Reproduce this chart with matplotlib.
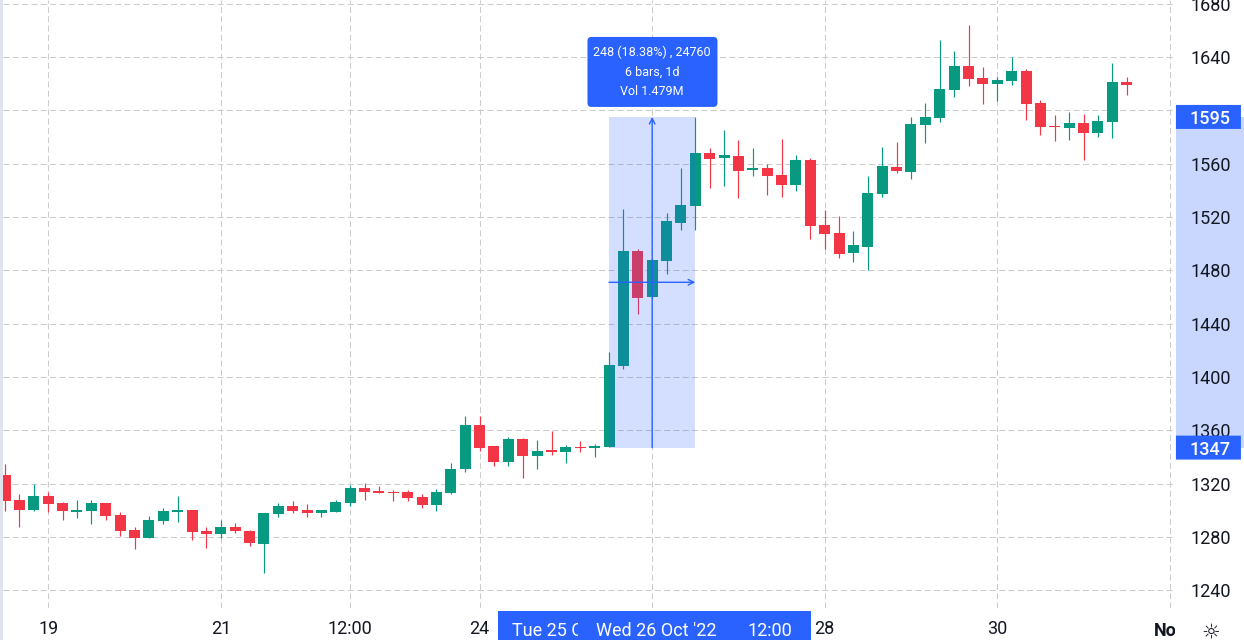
import matplotlib
matplotlib.use("Agg")
import matplotlib.pyplot as plt
import numpy as np
from matplotlib.patches import Rectangle, FancyBboxPatch
from matplotlib.transforms import blended_transform_factory, IdentityTransform, Bbox

plt.rcParams['font.family'] = ['Roboto', 'DejaVu Sans']
plt.rcParams['lines.scale_dashes'] = False

# ---------------- data ----------------
opens = [1326.5, 1307.7, 1300.5, 1310.7, 1305.5, 1299.0, 1299.7, 1305.5, 1296.5, 1285.2,
         1279.5, 1292.2, 1299.0, 1300.2, 1284.5, 1282.5, 1287.5, 1284.5, 1275.0, 1297.5,
         1303.2, 1300.2, 1298.2, 1299.0, 1305.7, 1316.7, 1314.5, 1313.7, 1313.7, 1310.0,
         1304.2, 1313.2, 1331.2, 1364.0, 1348.2, 1336.5, 1353.5, 1341.0, 1345.2, 1344.0,
         1347.5, 1346.7, 1347.7, 1408.2, 1494.5, 1460.2, 1487.2, 1515.7, 1528.5, 1568.0,
         1564.5, 1565.7, 1555.5, 1557.0, 1551.5, 1544.2, 1562.7, 1514.0, 1508.0, 1493.2,
         1497.7, 1537.2, 1557.5, 1553.7, 1589.0, 1594.2, 1615.2, 1633.2, 1624.2, 1619.7,
         1622.0, 1629.5, 1605.5, 1588.2, 1586.7, 1590.5, 1583.0, 1591.2, 1621.2]
highs = [1334.7, 1312.2, 1319.7, 1313.7, 1306.2, 1307.7, 1307.7, 1305.5, 1298.7, 1287.5,
         1295.7, 1301.7, 1310.7, 1300.2, 1287.5, 1292.7, 1290.5, 1285.2, 1298.0, 1305.5,
         1307.0, 1305.0, 1300.2, 1307.7, 1319.0, 1320.5, 1318.2, 1315.2, 1315.2, 1312.2,
         1316.0, 1335.5, 1370.7, 1370.7, 1348.2, 1355.0, 1354.2, 1352.7, 1359.5, 1349.0,
         1352.0, 1349.7, 1418.7, 1526.0, 1496.0, 1488.5, 1523.0, 1556.7, 1595.0, 1571.7,
         1585.2, 1577.7, 1571.7, 1559.7, 1578.5, 1566.5, 1564.2, 1525.2, 1520.7, 1509.5,
         1550.7, 1572.5, 1576.2, 1595.0, 1605.5, 1652.7, 1644.5, 1664.0, 1632.5, 1625.0,
         1640.0, 1631.0, 1607.7, 1596.5, 1598.7, 1597.2, 1596.5, 1635.5, 1625.0]
lows = [1299.7, 1287.7, 1299.7, 1299.0, 1293.0, 1294.5, 1290.0, 1293.0, 1281.0, 1271.2,
        1279.5, 1290.0, 1291.5, 1278.0, 1272.0, 1279.5, 1283.2, 1273.5, 1253.2, 1295.2,
        1298.2, 1295.2, 1295.2, 1299.0, 1303.5, 1308.0, 1313.2, 1307.2, 1307.2, 1302.0,
        1299.7, 1312.5, 1329.0, 1344.7, 1333.5, 1333.5, 1324.5, 1331.2, 1341.7, 1335.7,
        1344.0, 1340.2, 1347.7, 1406.2, 1447.2, 1459.0, 1477.5, 1510.5, 1510.5, 1542.0,
        1543.5, 1534.5, 1551.0, 1536.7, 1535.2, 1539.7, 1503.7, 1496.2, 1489.5, 1486.5,
        1480.5, 1535.2, 1553.0, 1548.5, 1575.5, 1591.2, 1610.0, 1618.2, 1604.7, 1607.0,
        1619.0, 1592.7, 1581.5, 1577.0, 1577.7, 1562.7, 1580.0, 1579.2, 1611.5]
closes = [1307.2, 1300.5, 1310.7, 1305.0, 1299.7, 1300.5, 1305.5, 1296.0, 1284.7, 1279.5,
          1292.7, 1299.5, 1300.2, 1284.0, 1282.5, 1287.5, 1284.7, 1275.7, 1298.0, 1303.2,
          1299.7, 1298.2, 1300.2, 1306.2, 1316.7, 1314.0, 1313.2, 1313.0, 1309.5, 1304.2,
          1313.7, 1331.0, 1364.0, 1347.0, 1336.5, 1353.5, 1341.0, 1344.5, 1343.7, 1347.5,
          1346.7, 1348.2, 1409.0, 1494.5, 1459.5, 1487.7, 1517.0, 1529.0, 1568.0, 1563.7,
          1566.5, 1554.7, 1557.0, 1551.0, 1544.2, 1562.7, 1513.5, 1507.5, 1492.5, 1499.0,
          1538.0, 1558.2, 1554.5, 1589.7, 1595.0, 1616.0, 1633.2, 1623.5, 1619.7, 1622.7,
          1629.5, 1604.7, 1587.5, 1587.5, 1590.5, 1583.0, 1592.0, 1621.2, 1619.0]

x_tick_idx = [3, 15, 24, 33, 45, 57, 69, 81]
x_tick_labels = ["19", "21", "12:00", "24", "", "28", "30", ""]
month_label = "Nov"
month_idx = 81
price_ticks = [1240, 1280, 1320, 1360, 1400, 1440, 1480, 1520, 1560, 1600, 1640, 1680]
price_tick_labels = ["1240", "1280", "1320", "1360", "1400", "1440", "1480", "1520", "1560", "", "1640", "1680"]

measure_start, measure_end = 42, 48
measure_low, measure_high = 1347, 1595
tooltip_lines = ["248 (18.38%) , 24760", "6 bars, 1d", "Vol 1.479M"]
range_start_label = "Tue 25 Oct '22"
range_end_label = "Wed 26 Oct '22"
range_time_label = "12:00"

# ---------------- style ----------------
GREEN = '#089981'
RED = '#F23645'
BLUE = '#2962FF'
TXT = '#131722'
GRID = '#cccccc'
W, H = 1244, 640

fig = plt.figure(figsize=(W / 100, H / 100), dpi=100)
fig.patch.set_facecolor('white')
ax_l, ax_r, ax_t, ax_b = 3, 1175, 0, 608
ax = fig.add_axes([ax_l / W, 1 - ax_b / H, (ax_r - ax_l) / W, (ax_b - ax_t) / H])
ax.set_xlim(-0.146, 81.36)
ax.set_ylim(1226.7, 1682.7)
for s in ax.spines.values():
    s.set_visible(False)

# candles
idx = np.arange(len(opens))
o = np.array(opens); c = np.array(closes)
up = c >= o
cols = np.where(up, GREEN, RED)
ax.vlines(idx, lows, highs, colors=cols, lw=0.85, zorder=2)
ax.bar(idx, np.maximum(np.abs(c - o), 1.0), bottom=np.minimum(o, c), width=0.765,
       color=cols, linewidth=0, zorder=3)

# grid & ticks
dash = (0, (4.3, 2.4))
ax.set_yticks(price_ticks, price_tick_labels)
ax.set_xticks(x_tick_idx, x_tick_labels)
ax.grid(True, color=GRID, linestyle=dash, lw=0.75)
ax.yaxis.tick_right()
ax.tick_params(axis='y', length=0, pad=11, labelsize=13, labelcolor=TXT)
ax.tick_params(axis='x', length=0, pad=9, labelsize=13, labelcolor=TXT)

# measure overlay
ax.add_patch(Rectangle((measure_start, measure_low), measure_end - measure_start,
                       measure_high - measure_low, facecolor=(41/255, 98/255, 1, 0.2),
                       edgecolor='none', zorder=4))
mid_x = (measure_start + measure_end) / 2
mid_y = (measure_low + measure_high) / 2
ax.annotate('', xy=(mid_x, measure_high), xytext=(mid_x, measure_low),
            arrowprops=dict(arrowstyle='->', color=BLUE, lw=1, mutation_scale=10,
                            shrinkA=0, shrinkB=0), zorder=5)
ax.annotate('', xy=(measure_end, mid_y), xytext=(measure_start, mid_y),
            arrowprops=dict(arrowstyle='->', color=BLUE, lw=1, mutation_scale=10,
                            shrinkA=0, shrinkB=0), zorder=5)

# price-axis highlight and labels
bt = blended_transform_factory(ax.transAxes, ax.transData)
x_axis_end = (W - ax_l) / (ax_r - ax_l)
ax.add_patch(Rectangle((1.0008, measure_low), x_axis_end - 1.0008, measure_high - measure_low,
                       transform=bt, facecolor=(41/255, 98/255, 1, 0.25), edgecolor='none',
                       clip_on=False, zorder=0.6))
box_w = (1241 - 1176) / (ax_r - ax_l)
for val in (measure_high, measure_low):
    ax.add_patch(FancyBboxPatch((1.0008, val - 9), box_w, 18, transform=bt,
                                boxstyle='round,pad=0,rounding_size=0.002',
                                facecolor=BLUE, edgecolor='none', clip_on=False, zorder=10))
    ax.text(1.0008 + box_w / 2 + 0.001, val, str(val), transform=bt, ha='center',
            va='center_baseline', color='white', fontsize=13, fontweight='medium',
            clip_on=False, zorder=11)

fig.canvas.draw()
tdisp = ax.transData.transform
ident = IdentityTransform()

# tooltip
cx, top = tdisp((mid_x, measure_high))
tw, th = 130, 70
fig.patches.append(FancyBboxPatch((cx - tw / 2 + 0.3, top + 10), tw, th, transform=ident,
                                  boxstyle='round,pad=0,rounding_size=4', facecolor=BLUE,
                                  edgecolor='none', zorder=5))
for k, line in enumerate(tooltip_lines):
    fig.text(cx, top + 10 + th - 15 - 20 * k, line, transform=ident, ha='center', va='center',
             color='white', fontsize=9, zorder=6)

# time-axis range labels (second label partially covers the first)
x0, _ = tdisp((measure_start, 0))
x1, _ = tdisp((measure_end, 0))
lab_w = 231
fig.patches.append(Rectangle((x0 - 111, 0), lab_w, 29, transform=ident, facecolor=BLUE,
                             edgecolor='none', zorder=3))
t1 = fig.text(x0 - 97, 9.5, range_start_label + "   " + range_time_label, transform=ident,
              ha='left', va='center', color='white', fontsize=13, zorder=4)
t1.set_clip_box(Bbox.from_extents(0, 0, x1 - 117, H))
t1.set_clip_on(True)
fig.patches.append(Rectangle((x1 - 117, 0), lab_w + 2, 29, transform=ident, facecolor=BLUE,
                             edgecolor='none', zorder=5))
fig.text(x1 - 99, 9.5, range_end_label, transform=ident, ha='left', va='center',
         color='white', fontsize=13, zorder=6)
fig.text(x1 + 52, 9.5, range_time_label, transform=ident, ha='left', va='center',
         color='white', fontsize=13, zorder=6)

# month label clipped by price scale
mx, _ = tdisp((month_idx, 0))
mt = fig.text(mx, 9.5, month_label, transform=ident, ha='center', va='center', color=TXT,
              fontsize=13, fontweight='bold', zorder=6)
mt.set_clip_box(Bbox.from_extents(0, 0, ax_r, H))
mt.set_clip_on(True)

# settings icon
fig.text(1211, 8, '\u263c', transform=ident, ha='center', va='center', color=TXT,
         fontsize=15, family=['DejaVu Sans'], zorder=6)

# left strip
fig.patches.append(Rectangle((0, 0), 3, H, transform=ident, facecolor='#e0e3eb',
                             edgecolor='none', zorder=6))

fig.savefig('out.png', dpi=100)
